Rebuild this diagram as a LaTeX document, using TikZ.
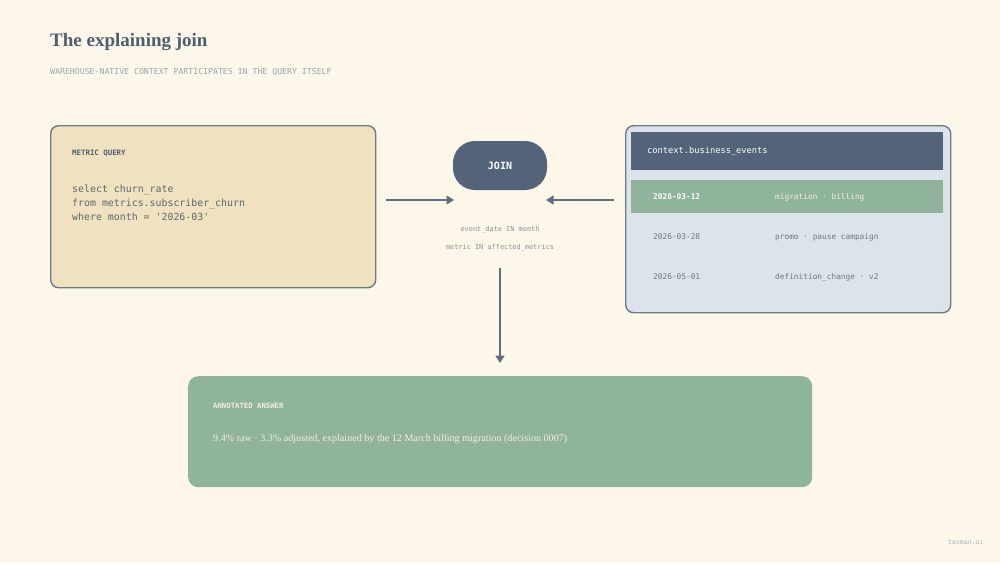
\documentclass[tikz,border=0pt]{standalone}
\usepackage{fontspec}
\setmainfont{Liberation Serif}
\setmonofont{DejaVu Sans Mono}
\usetikzlibrary{arrows.meta}
\definecolor{bg}{HTML}{FDF7EA}
\definecolor{titlec}{HTML}{4F5E70}
\definecolor{subc}{HTML}{9AA5B1}
\definecolor{beige}{HTML}{F0E2C0}
\definecolor{borderc}{HTML}{6E7A86}
\definecolor{slate}{HTML}{52637A}
\definecolor{greenc}{HTML}{8FB39B}
\definecolor{lightb}{HTML}{DDE3EA}
\definecolor{codec}{HTML}{5E6670}
\definecolor{rowc}{HTML}{6E7680}
\definecolor{creamc}{HTML}{F4EEDF}
\definecolor{arrowc}{HTML}{5F6E80}
\definecolor{notec}{HTML}{8A9099}
\tikzset{
  card/.style={draw=borderc, line width=1.4pt, rounded corners=8pt, anchor=north west, inner sep=0pt},
  mono/.style={font=\ttfamily\fontsize{#1}{#1}\selectfont},
  lbl/.style={anchor=west, inner sep=0pt},
  conn/.style={draw=arrowc, line width=1.5pt, -{Triangle[length=7.5pt,width=9pt]}},
}
\begin{document}
\begin{tikzpicture}[x=1pt,y=-1pt]
\fill[bg] (0,0) rectangle (1000,563);
\useasboundingbox (0,0) rectangle (1000,563);

% title
\node[lbl, text=titlec, font=\bfseries\fontsize{19}{19}\selectfont] (title) at (50,42.5) {The explaining join};
\node[lbl, text=subc, mono=8.2] (subtitle) at (50,72) {WAREHOUSE-NATIVE CONTEXT PARTICIPATES IN THE QUERY ITSELF};

% metric query card
\node[card, fill=beige, minimum width=325pt, minimum height=162pt] (mq) at (50,125) {};
\node[lbl, text=titlec, font=\ttfamily\bfseries\fontsize{7.4}{7.4}\selectfont] (mqlabel) at (72,153) {METRIC QUERY};
\node[text=codec, anchor=north west, inner sep=0pt, align=left, font=\ttfamily\fontsize{9.9}{14}\selectfont] (code) at (72,184.5)
  {select churn\_rate\\from metrics.subscriber\_churn\\where month = '2026-03'};

% join
\node[fill=slate, rounded corners=22pt, minimum width=94pt, minimum height=49pt, text=white,
      font=\ttfamily\bfseries\fontsize{10}{10}\selectfont] (join) at (500,165.5) {JOIN};
\coordinate (la) at (386,200);
\coordinate (lb) at (454,200);
\coordinate (ra) at (614,200);
\coordinate (rb) at (546,200);
\draw[conn] (la) -- (lb);
\draw[conn] (ra) -- (rb);
\node[text=notec, mono=6.9] (cond1) at (500,230) {event\_date IN month};
\node[text=notec, mono=6.9] (cond2) at (500,248) {metric IN affected\_metrics};
\coordinate (da) at (500,268);
\coordinate (db) at (500,363);
\draw[conn] (da) -- (db);

% context card
\node[card, fill=lightb, minimum width=325pt, minimum height=187pt] (ctx) at (625,125) {};
\node[fill=slate, anchor=north west, minimum width=312pt, minimum height=38pt, inner sep=0pt] (hdr) at (631,132) {};
\node[lbl, text=white, mono=8.7] (hdrtxt) at (647,151) {context.business\_events};
\node[fill=greenc, anchor=north west, minimum width=312pt, minimum height=33pt, inner sep=0pt] (hl) at (631,180) {};
\node[lbl, text=white, font=\ttfamily\bfseries\fontsize{7.8}{7.8}\selectfont] (d1) at (653,197) {2026-03-12};
\node[lbl, text=creamc, mono=7.8] (e1) at (775,197) {migration · billing};
\node[lbl, text=rowc, mono=7.8] (d2) at (653,237) {2026-03-28};
\node[lbl, text=rowc, mono=7.8] (e2) at (775,237) {promo · pause campaign};
\node[lbl, text=rowc, mono=7.8] (d3) at (653,277) {2026-05-01};
\node[lbl, text=rowc, mono=7.8] (e3) at (775,277) {definition\_change · v2};

% answer card
\node[fill=greenc, rounded corners=10pt, anchor=north west, minimum width=624pt, minimum height=111pt, inner sep=0pt] (ans) at (188,376) {};
\node[lbl, text=creamc, font=\ttfamily\bfseries\fontsize{7.3}{7.3}\selectfont] (anslabel) at (213,406) {ANNOTATED ANSWER};
\node[lbl, text=creamc, font=\fontsize{10.1}{10.1}\selectfont] (anstext) at (213,439.5) {9.4\% raw · 3.3\% adjusted, explained by the 12 March billing migration (decision 0007)};

% footer
\node[lbl, text=subc!80, mono=6.5] (foot) at (948,542) {tasman.ai};
\end{tikzpicture}
\end{document}
